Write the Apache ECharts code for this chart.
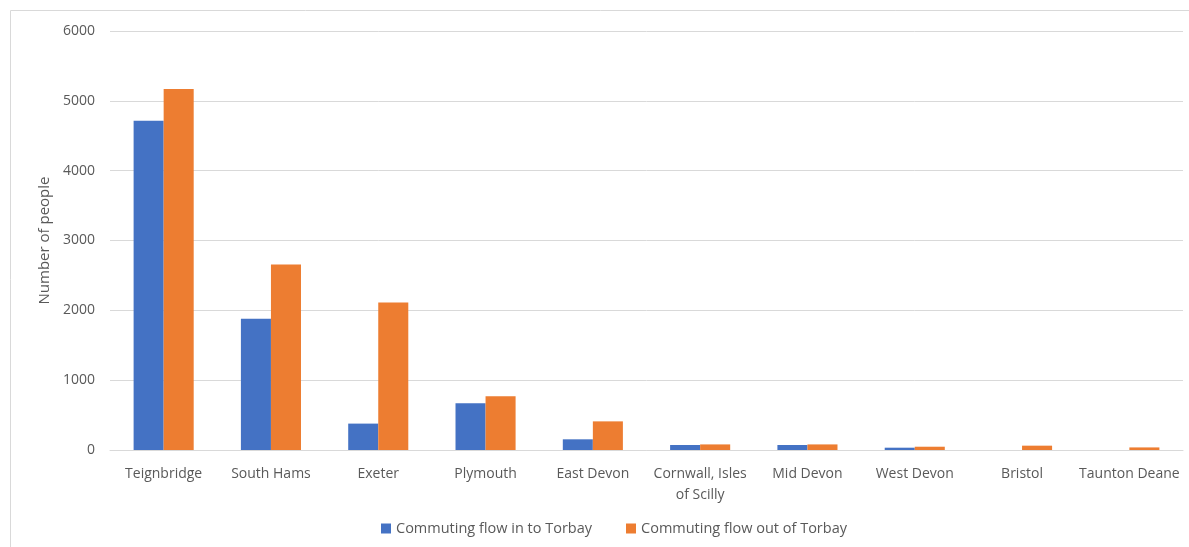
<!DOCTYPE html>
<html>
<head>
<meta charset="utf-8">
<script src="https://cdn.jsdelivr.net/npm/echarts@6/dist/echarts.min.js"></script>
<style>
  html, body { margin: 0; padding: 0; background: #fff; }
  #chart { width: 1189px; height: 547px; }
</style>
</head>
<body>
<div id="chart"></div>
<script>
const categories = ['Teignbridge', 'South Hams', 'Exeter', 'Plymouth', 'East Devon',
  'Cornwall, Isles of Scilly', 'Mid Devon', 'West Devon', 'Bristol', 'Taunton Deane']
const flowIn = [4715, 1880, 378, 670, 153, 72, 72, 33, 0, 0]
const flowOut = [5170, 2656, 2112, 770, 410, 80, 80, 47, 62, 37]
const yTicks = [0, 6000, 1000]

const chart = echarts.init(document.getElementById('chart'))
const textColor = '#595959'
const font = '"Open Sans", "Noto Sans", sans-serif'

chart.setOption({
  animation: false,
  textStyle: { fontFamily: font },
  graphic: [{
    type: 'rect',
    shape: { x: 10.5, y: 10.5, width: 1190, height: 560 },
    style: { fill: 'none', stroke: '#d9d9d9', lineWidth: 1 },
    silent: true
  }],
  legend: {
    bottom: 6,
    left: 376,
    itemWidth: 10,
    itemHeight: 10,
    itemGap: 34,
    icon: 'rect',
    textStyle: { color: textColor, fontSize: 14.5, fontFamily: font },
    data: ['Commuting flow in to Torbay', 'Commuting flow out of Torbay']
  },
  grid: {
    left: 110,
    right: 6,
    top: 31,
    bottom: 97
  },
  xAxis: {
    type: 'category',
    data: categories,
    axisTick: { show: false },
    axisLine: { lineStyle: { color: '#d9d9d9', width: 1 } },
    axisLabel: {
      color: textColor,
      fontSize: 14,
      margin: 14,
      lineHeight: 21,
      interval: 0,
      formatter: v => v.replace('Isles of', 'Isles\nof')
    }
  },
  yAxis: {
    type: 'value',
    min: yTicks[0],
    max: yTicks[1],
    interval: yTicks[2],
    name: 'Number of people',
    nameLocation: 'middle',
    nameGap: 58,
    nameRotate: 90,
    nameTextStyle: { color: textColor, fontSize: 15, fontFamily: font },
    axisLine: { show: false },
    axisTick: { show: false },
    axisLabel: { color: textColor, fontSize: 14, margin: 15, formatter: v => String(v) },
    splitLine: { lineStyle: { color: '#d9d9d9', width: 1 } }
  },
  series: [
    {
      name: 'Commuting flow in to Torbay',
      type: 'bar',
      data: flowIn,
      barGap: '0%',
      barCategoryGap: '44%',
      itemStyle: { color: '#4472c4' }
    },
    {
      name: 'Commuting flow out of Torbay',
      type: 'bar',
      data: flowOut,
      barGap: '0%',
      barCategoryGap: '44%',
      itemStyle: { color: '#ed7d31' }
    }
  ]
})
</script>
</body>
</html>
